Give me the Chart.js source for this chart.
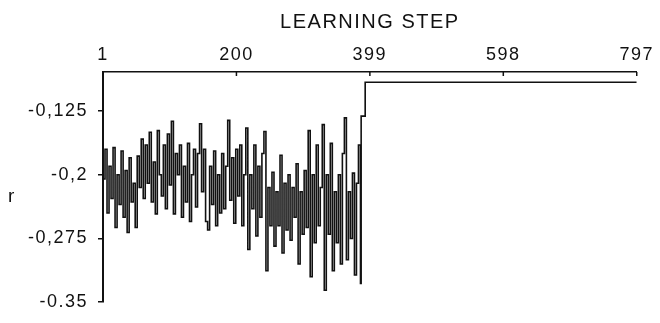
<!DOCTYPE html>
<html>
<head>
<meta charset="utf-8">
<script src="https://cdn.jsdelivr.net/npm/chart.js@4.4.1/dist/chart.umd.min.js"></script>
<style>
  html, body { margin: 0; padding: 0; background: #fff; }
  #wrap { width: 660px; height: 323px; }
</style>
</head>
<body>
<div id="wrap"><canvas id="chart" width="660" height="323"></canvas></div>
<script>
// learning steps shown on the top axis
const stepTicks = [1, 200, 399, 598, 797];
// r axis ticks and their printed labels (as in the scan)
const rTicks = [-0.35, -0.275, -0.2, -0.125];
const rTickLabels = ["-0.35", "-0,275", "-0,2", "-0,125"];

// noisy phase: one reading every 3 steps, starting at step 1
const noiseStart = 1;
const noiseEvery = 3;
const noiseR = [
  -0.205, -0.17, -0.245, -0.19, -0.228, -0.168, -0.262, -0.2, -0.235, -0.172,
  -0.25, -0.195, -0.268, -0.18, -0.232, -0.21, -0.262, -0.178, -0.215, -0.158,
  -0.228, -0.165, -0.21, -0.15, -0.232, -0.185, -0.246, -0.148, -0.2, -0.225,
  -0.165, -0.24, -0.152, -0.212, -0.137, -0.246, -0.175, -0.2, -0.165, -0.25,
  -0.19, -0.232, -0.163, -0.255, -0.2, -0.17, -0.238, -0.175, -0.14, -0.22,
  -0.17, -0.255, -0.265, -0.19, -0.235, -0.172, -0.26, -0.2, -0.245, -0.175,
  -0.24, -0.19, -0.136, -0.23, -0.18, -0.257, -0.17, -0.225, -0.165, -0.26,
  -0.2, -0.145, -0.288, -0.2, -0.24, -0.165, -0.272, -0.19, -0.25, -0.175,
  -0.149, -0.313, -0.215, -0.26, -0.197, -0.284, -0.22, -0.26, -0.177, -0.292,
  -0.21, -0.265, -0.2, -0.277, -0.215, -0.25, -0.187, -0.305, -0.22, -0.27,
  -0.195, -0.262, -0.148, -0.32, -0.2, -0.28, -0.165, -0.26, -0.215, -0.141,
  -0.336, -0.2, -0.27, -0.163, -0.313, -0.22, -0.28, -0.2, -0.305, -0.175,
  -0.133, -0.3, -0.22, -0.275, -0.198, -0.318, -0.21, -0.165, -0.328
];

// after the jump: step and r
const tailSteps = [386, 392, 797];
const tailR = [-0.131, -0.091, -0.091];

const points = noiseR.map((r, i) => ({ x: noiseStart + i * noiseEvery, y: r }));
tailSteps.forEach((s, i) => points.push({ x: s, y: tailR[i] }));

const ink = "#111";
Chart.defaults.font.family = "'Liberation Sans', Arial, sans-serif";
Chart.defaults.font.size = 18;
Chart.defaults.color = ink;

// scanned lettering is spaced a bit wider
const spacing = {
  id: "spacing",
  beforeLayout(chart) { chart.ctx.letterSpacing = "1.5px"; },
  beforeDraw(chart) { chart.ctx.letterSpacing = "1.5px"; }
};

// "r" label (horizontal) and the small inward ticks on the top axis
const extras = {
  id: "extras",
  afterDraw(chart) {
    const ctx = chart.ctx;
    const x = chart.scales.x;
    ctx.save();
    ctx.strokeStyle = ink;
    ctx.lineWidth = 1.5;
    stepTicks.forEach(s => {
      const px = x.getPixelForValue(s);
      ctx.beginPath();
      ctx.moveTo(px, x.bottom);
      ctx.lineTo(px, x.bottom + 4);
      ctx.stroke();
    });
    ctx.fillStyle = ink;
    ctx.font = "19px 'Liberation Sans', Arial, sans-serif";
    ctx.textAlign = "center";
    ctx.textBaseline = "middle";
    ctx.fillText("r", 12, 197);
    ctx.restore();
  }
};

new Chart(document.getElementById("chart"), {
  type: "line",
  data: {
    datasets: [{
      data: points,
      borderColor: ink,
      borderWidth: 1.6,
      pointRadius: 0,
      stepped: true,
      fill: false
    }]
  },
  options: {
    responsive: false,
    animation: false,
    layout: { padding: { left: 0, right: 18, top: 0, bottom: 10 } },
    plugins: { legend: { display: false }, tooltip: { enabled: false } },
    scales: {
      x: {
        type: "linear",
        position: "top",
        min: 1,
        max: 797,
        afterBuildTicks: s => { s.ticks = stepTicks.map(v => ({ value: v })); },
        afterFit: s => { s.height = 72; },
        ticks: { padding: 6, maxRotation: 0, autoSkip: false, callback: v => String(v) },
        grid: { display: true, drawOnChartArea: false, drawTicks: false },
        border: { display: true, color: ink, width: 1.5, dash: [12, 3] },
        title: {
          display: true,
          text: "LEARNING STEP",
          font: { size: 20 },
          padding: { top: 10, bottom: 0 }
        }
      },
      y: {
        min: -0.35,
        max: -0.079,
        afterBuildTicks: s => { s.ticks = rTicks.map(v => ({ value: v })); },
        afterFit: s => { s.width = 103; },
        ticks: {
          padding: 10,
          autoSkip: false,
          callback: v => rTickLabels[rTicks.indexOf(v)] ?? ""
        },
        grid: { display: true, drawOnChartArea: false, drawTicks: true, tickLength: 5, color: ink, lineWidth: 1.5 },
        border: { display: true, color: ink, width: 2 }
      }
    }
  },
  plugins: [spacing, extras]
});
</script>
</body>
</html>
